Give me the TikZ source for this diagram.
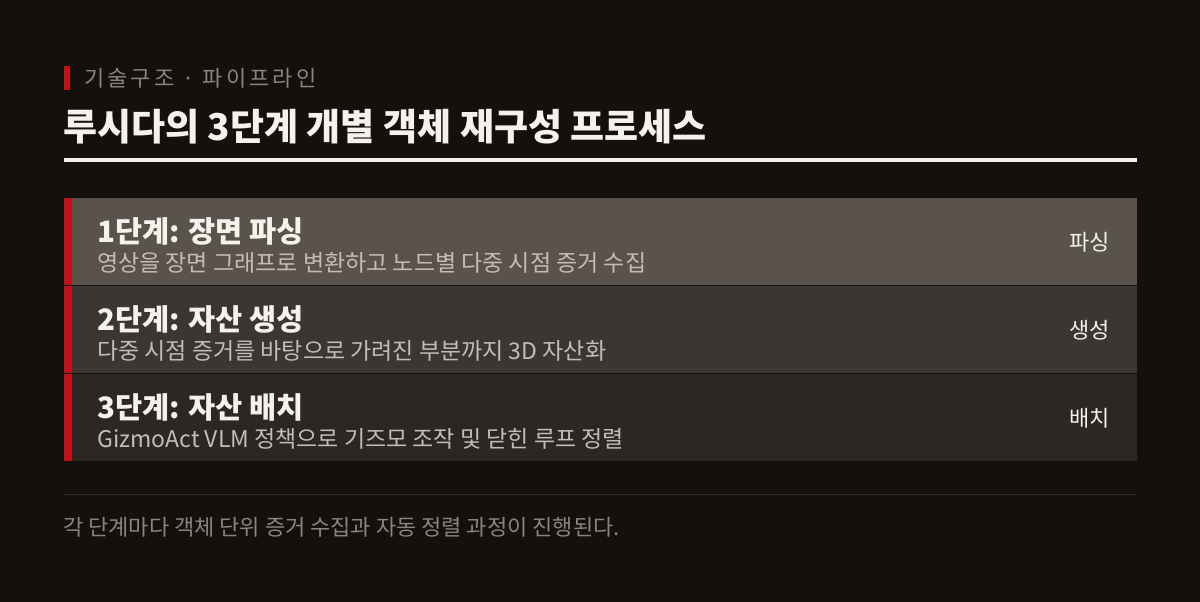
\documentclass[tikz,border=0pt]{standalone}
\usepackage{fontspec}
\setmainfont{Noto Sans CJK KR}
\newfontfamily\spacedfont[LetterSpace=14]{Noto Sans CJK KR}
\usetikzlibrary{positioning}

\definecolor{pagebg}{HTML}{13100E}
\definecolor{accent}{HTML}{C1121C}
\definecolor{rowone}{HTML}{5A524D}
\definecolor{rowtwo}{HTML}{3B3632}
\definecolor{rowthree}{HTML}{2C2724}
\definecolor{headtext}{HTML}{F5F2EC}
\definecolor{desctext}{HTML}{C4BDB5}
\definecolor{mutedtext}{HTML}{8A847E}
\definecolor{footline}{HTML}{2E2A27}

\begin{document}
\begin{tikzpicture}[x=1pt,y=-1pt,
  stage row/.style={rectangle,inner sep=0pt,minimum width=1073pt,minimum height=87pt,anchor=north west},
  stage title/.style={inner sep=0pt,anchor=west,text=headtext,font=\bfseries\fontsize{29.5}{34}\selectfont},
  stage desc/.style={inner sep=0pt,anchor=west,text=desctext,font=\fontsize{23}{27}\selectfont},
  stage tag/.style={inner sep=0pt,anchor=east,text=headtext,font=\fontsize{22}{26}\selectfont}]

  \useasboundingbox (0,0) rectangle (1200,602);
  \fill[pagebg] (0,0) rectangle (1200,602);

  % header
  \fill[accent] (64,66) rectangle (70,90);
  \node[inner sep=0pt,anchor=west,text=mutedtext,font=\spacedfont\fontsize{22}{26}\selectfont] (kicker) at (84,78) {기술구조 · 파이프라인};
  \node[inner sep=0pt,anchor=west,text=headtext,font=\bfseries\fontsize{37}{42}\selectfont] (heading) at (63,127) {루시다의 3단계 개별 객체 재구성 프로세스};
  \fill[headtext] (64,158) rectangle (1137,162);

  % stages
  \node[stage row,fill=rowone] (row1) at (64,198) {};
  \node[stage row,fill=rowtwo] (row2) at (64,286) {};
  \node[stage row,fill=rowthree] (row3) at (64,374) {};
  \fill[accent] (row1.north west) rectangle ([xshift=8pt]row1.south west);
  \fill[accent] (row2.north west) rectangle ([xshift=8pt]row2.south west);
  \fill[accent] (row3.north west) rectangle ([xshift=8pt]row3.south west);

  \node[stage title] (title1) at ([xshift=33pt,yshift=10pt]row1.west) {1단계: 장면 파싱};
  \node[stage desc] (desc1) at ([xshift=33pt,yshift=-21pt]row1.west) {영상을 장면 그래프로 변환하고 노드별 다중 시점 증거 수집};
  \node[stage tag] (tag1) at ([xshift=-27pt,yshift=-1pt]row1.east) {파싱};

  \node[stage title] (title2) at ([xshift=33pt,yshift=10pt]row2.west) {2단계: 자산 생성};
  \node[stage desc] (desc2) at ([xshift=33pt,yshift=-21pt]row2.west) {다중 시점 증거를 바탕으로 가려진 부분까지 3D 자산화};
  \node[stage tag] (tag2) at ([xshift=-27pt,yshift=-1pt]row2.east) {생성};

  \node[stage title] (title3) at ([xshift=33pt,yshift=10pt]row3.west) {3단계: 자산 배치};
  \node[stage desc] (desc3) at ([xshift=33pt,yshift=-21pt]row3.west) {GizmoAct VLM 정책으로 기즈모 조작 및 닫힌 루프 정렬};
  \node[stage tag] (tag3) at ([xshift=-27pt,yshift=-1pt]row3.east) {배치};

  % footer
  \draw[footline,line width=1pt] (64,494) -- (1137,494);
  \node[inner sep=0pt,anchor=west,text=mutedtext,font=\fontsize{22}{26}\selectfont] (note) at (63,527) {각 단계마다 객체 단위 증거 수집과 자동 정렬 과정이 진행된다.};
\end{tikzpicture}
\end{document}
